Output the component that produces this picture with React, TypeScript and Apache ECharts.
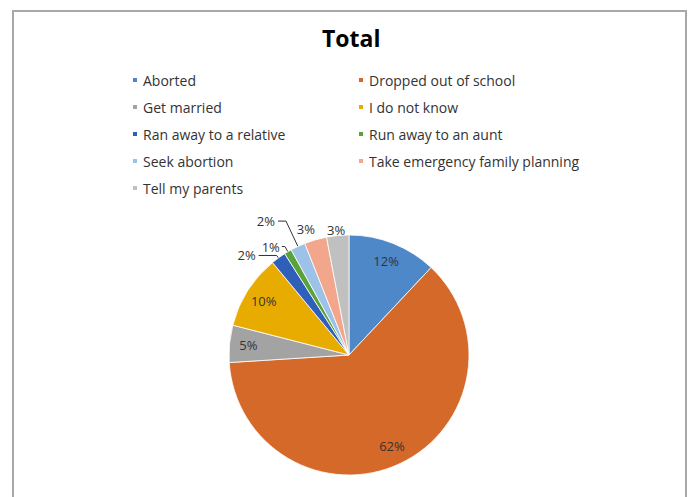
import React, { useEffect, useRef } from "react";
import * as echarts from "echarts";

const titleText = "Total";
const categories = [
  "Aborted",
  "Dropped out of school",
  "Get married",
  "I do not know",
  "Ran away to a relative",
  "Run away to an aunt",
  "Seek abortion",
  "Take emergency family planning",
  "Tell my parents",
];
const percentages = [12, 62, 5, 10, 2, 1, 2, 3, 3];
const sliceColors = [
  "#4F88C8",
  "#D5692A",
  "#A3A3A3",
  "#E8AC00",
  "#2F5FB8",
  "#5AA23A",
  "#9CC2E8",
  "#F2A68C",
  "#C0C0C0",
];

// label placement styles for the small slices (keyed by category index)
const outsideStyle: Record<number, { len: number; len2: number; dist: number; line: boolean }> = {
  4: { len: 3, len2: 18, dist: 3, line: true },
  5: { len: 6, len2: 3, dist: 2, line: true },
  6: { len: 28, len2: 8, dist: 3, line: true },
  7: { len: 11, len2: 0, dist: -2.5, line: false },
  8: { len: 6, len2: 0, dist: -8, line: false },
};

const FONT = "'Open Sans', 'Noto Sans', sans-serif";

export default function App() {
  const ref = useRef<HTMLDivElement>(null);
  useEffect(() => {
    if (!ref.current) return;
    const chart = echarts.init(ref.current, undefined, { renderer: "svg" });
    const center = [349, 355];
    const R = 120;
    const fmt = (p: any) => Math.round(p.percent) + "%";

    const mainData = categories.map((name, i) => {
      const st = outsideStyle[i];
      const item: any = { name, value: percentages[i], itemStyle: { color: sliceColors[i] } };
      if (st) {
        item.label = { show: true, position: "outside", distanceToLabelLine: st.dist };
        item.labelLine = {
          show: true,
          length: st.len,
          length2: st.len2,
          lineStyle: { color: "#333333", width: 1, opacity: st.line ? 1 : 0 },
        };
      } else {
        item.label = { show: false };
        item.labelLine = { show: false };
      }
      return item;
    });

    const overlayData = categories.map((name, i) => ({
      name,
      value: percentages[i],
      itemStyle: { color: "rgba(0,0,0,0)", borderWidth: 0 },
      label: { show: !outsideStyle[i] },
    }));

    const leftNames = categories.filter((_, i) => i % 2 === 0);
    const rightNames = categories.filter((_, i) => i % 2 === 1);
    const legendBase = {
      orient: "vertical",
      top: 73,
      itemGap: 13,
      itemWidth: 6,
      itemHeight: 6,
      icon: "rect",
      padding: 0,
      selectedMode: false,
      textStyle: { fontSize: 14, color: "#333333", fontFamily: FONT },
    };

    chart.setOption({
      animation: false,
      backgroundColor: "#ffffff",
      title: {
        text: titleText,
        left: 322,
        top: 26,
        padding: 0,
        textStyle: { fontSize: 23, fontWeight: "bold", color: "#000", fontFamily: FONT },
      },
      legend: [
        { ...legendBase, left: 131, data: leftNames },
        { ...legendBase, left: 357, data: rightNames },
      ],
      graphic: [
        {
          type: "rect",
          shape: { x: 13, y: 11, width: 673, height: 520 },
          style: { fill: "none", stroke: "#a8a8a8", lineWidth: 2 },
          silent: true,
        },
      ],
      series: [
        {
          type: "pie",
          center,
          radius: [0, R],
          startAngle: 90,
          clockwise: true,
          avoidLabelOverlap: false,
          itemStyle: { borderColor: "#ffffff", borderWidth: 0.8 },
          label: {
            formatter: fmt,
            fontSize: 13,
            color: "#333333",
            fontFamily: FONT,
          },
          emphasis: { disabled: true },
          data: mainData,
        },
        {
          type: "pie",
          center,
          radius: [76, R],
          startAngle: 90,
          clockwise: true,
          silent: true,
          avoidLabelOverlap: false,
          label: {
            position: "inside",
            formatter: fmt,
            fontSize: 13,
            color: "#333333",
            fontFamily: FONT,
          },
          labelLine: { show: false },
          emphasis: { disabled: true },
          data: overlayData,
        },
      ],
    });
    return () => chart.dispose();
  }, []);
  return (
    <div
      ref={ref}
      style={{ position: "absolute", left: 0, top: 0, width: 689, height: 497 }}
    />
  );
}
